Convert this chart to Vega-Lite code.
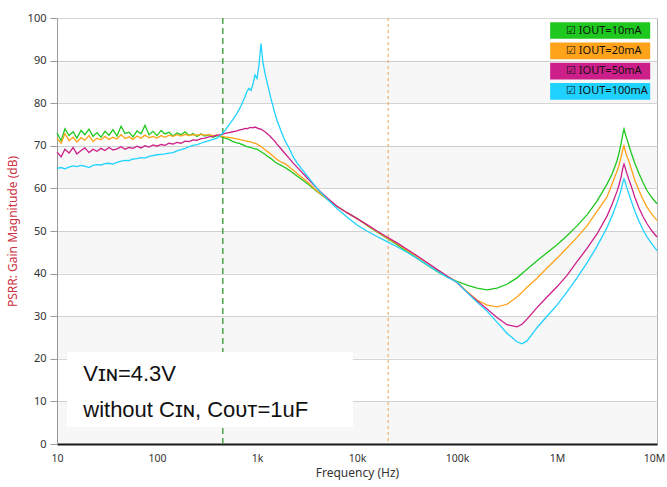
{
  "$schema": "https://vega.github.io/schema/vega-lite/v6.json",
  "width": 600,
  "height": 426,
  "autosize": {"type": "none"},
  "padding": {"left": 57, "top": 18, "right": 10, "bottom": 43},
  "background": "white",
  "datasets": {
    "bands": [
      {"lo": 0, "hi": 10}, {"lo": 20, "hi": 30}, {"lo": 40, "hi": 50}, {"lo": 60, "hi": 70}, {"lo": 80, "hi": 90}
    ],
    "psrr": [
      {"f": 10, "10mA": 73.0, "20mA": 71.8, "50mA": 68.5, "100mA": 64.7},
      {"f": 11, "10mA": 71.2, "20mA": 70.6, "50mA": 67.4, "100mA": 64.9},
      {"f": 12, "10mA": 74.0, "20mA": 72.9, "50mA": 69.2, "100mA": 64.6},
      {"f": 13.2, "10mA": 72.4, "20mA": 71.2, "50mA": 68.3, "100mA": 65.0},
      {"f": 14.5, "10mA": 73.3, "20mA": 72.0, "50mA": 69.6, "100mA": 65.3},
      {"f": 15.8, "10mA": 71.8, "20mA": 70.9, "50mA": 68.1, "100mA": 65.1},
      {"f": 17.4, "10mA": 73.6, "20mA": 71.9, "50mA": 68.9, "100mA": 65.4},
      {"f": 19, "10mA": 72.6, "20mA": 71.3, "50mA": 69.5, "100mA": 65.2},
      {"f": 20.9, "10mA": 73.9, "20mA": 72.4, "50mA": 68.4, "100mA": 64.9},
      {"f": 22.9, "10mA": 72.2, "20mA": 71.0, "50mA": 69.2, "100mA": 65.4},
      {"f": 25.1, "10mA": 73.1, "20mA": 71.8, "50mA": 68.7, "100mA": 65.6},
      {"f": 27.5, "10mA": 72.0, "20mA": 71.4, "50mA": 69.4, "100mA": 65.5},
      {"f": 30.2, "10mA": 73.4, "20mA": 72.2, "50mA": 68.9, "100mA": 65.8},
      {"f": 33.1, "10mA": 72.5, "20mA": 71.5, "50mA": 69.6, "100mA": 65.9},
      {"f": 36.3, "10mA": 73.8, "20mA": 72.0, "50mA": 69.0, "100mA": 65.7},
      {"f": 39.8, "10mA": 72.3, "20mA": 71.6, "50mA": 69.3, "100mA": 66.1},
      {"f": 43.7, "10mA": 74.6, "20mA": 72.6, "50mA": 69.8, "100mA": 66.4},
      {"f": 47.9, "10mA": 72.9, "20mA": 71.7, "50mA": 69.2, "100mA": 66.6},
      {"f": 52.5, "10mA": 73.2, "20mA": 72.1, "50mA": 69.6, "100mA": 66.5},
      {"f": 57.5, "10mA": 72.1, "20mA": 71.5, "50mA": 69.4, "100mA": 66.9},
      {"f": 63.1, "10mA": 73.5, "20mA": 72.3, "50mA": 69.9, "100mA": 67.0},
      {"f": 69.2, "10mA": 72.8, "20mA": 71.8, "50mA": 69.5, "100mA": 67.2},
      {"f": 75.9, "10mA": 74.8, "20mA": 72.5, "50mA": 70.0, "100mA": 67.1},
      {"f": 83.2, "10mA": 72.6, "20mA": 71.9, "50mA": 69.7, "100mA": 67.5},
      {"f": 91.2, "10mA": 73.4, "20mA": 72.2, "50mA": 70.2, "100mA": 67.7},
      {"f": 100, "10mA": 72.4, "20mA": 71.8, "50mA": 69.9, "100mA": 67.9},
      {"f": 110, "10mA": 73.6, "20mA": 72.4, "50mA": 70.3, "100mA": 68.0},
      {"f": 120, "10mA": 72.8, "20mA": 72.0, "50mA": 70.1, "100mA": 68.1},
      {"f": 132, "10mA": 73.2, "20mA": 72.5, "50mA": 70.6, "100mA": 68.3},
      {"f": 145, "10mA": 72.3, "20mA": 72.2, "50mA": 70.4, "100mA": 68.4},
      {"f": 158, "10mA": 73.0, "20mA": 72.6, "50mA": 70.8, "100mA": 68.8},
      {"f": 174, "10mA": 72.6, "20mA": 72.3, "50mA": 70.6, "100mA": 69.1},
      {"f": 191, "10mA": 73.3, "20mA": 72.7, "50mA": 71.1, "100mA": 69.4},
      {"f": 209, "10mA": 72.4, "20mA": 72.4, "50mA": 71.0, "100mA": 69.8},
      {"f": 229, "10mA": 72.9, "20mA": 72.6, "50mA": 71.4, "100mA": 70.1},
      {"f": 251, "10mA": 72.2, "20mA": 72.5, "50mA": 71.3, "100mA": 70.3},
      {"f": 275, "10mA": 72.8, "20mA": 72.7, "50mA": 71.7, "100mA": 70.6},
      {"f": 302, "10mA": 72.3, "20mA": 72.5, "50mA": 71.8, "100mA": 70.9},
      {"f": 331, "10mA": 72.6, "20mA": 72.6, "50mA": 72.1, "100mA": 71.2},
      {"f": 363, "10mA": 72.0, "20mA": 72.4, "50mA": 72.2, "100mA": 71.5},
      {"f": 398, "10mA": 72.4, "20mA": 72.5, "50mA": 72.5, "100mA": 71.8},
      {"f": 437, "10mA": 72.1, "20mA": 72.3, "50mA": 72.6, "100mA": 72.6},
      {"f": 479, "10mA": 71.8, "20mA": 72.1, "50mA": 72.9, "100mA": 73.6},
      {"f": 525, "10mA": 71.5, "20mA": 72.0, "50mA": 73.1, "100mA": 74.9},
      {"f": 575, "10mA": 71.0, "20mA": 71.8, "50mA": 73.3, "100mA": 76.2},
      {"f": 631, "10mA": 70.7, "20mA": 71.6, "50mA": 73.5, "100mA": 77.6},
      {"f": 661, "10mA": 70.6, "20mA": 71.5, "50mA": 73.7, "100mA": 78.5},
      {"f": 692, "10mA": 70.4, "20mA": 71.4, "50mA": 73.8, "100mA": 79.4},
      {"f": 724, "10mA": 70.2, "20mA": 71.3, "50mA": 73.9, "100mA": 80.4},
      {"f": 759, "10mA": 70.0, "20mA": 71.2, "50mA": 74.1, "100mA": 81.5},
      {"f": 794, "10mA": 69.8, "20mA": 71.1, "50mA": 74.0, "100mA": 82.8},
      {"f": 832, "10mA": 69.7, "20mA": 71.0, "50mA": 74.2, "100mA": 83.5},
      {"f": 871, "10mA": 69.6, "20mA": 70.9, "50mA": 74.3, "100mA": 83.0},
      {"f": 912, "10mA": 69.4, "20mA": 70.7, "50mA": 74.2, "100mA": 84.5},
      {"f": 955, "10mA": 69.3, "20mA": 70.6, "50mA": 74.4, "100mA": 86.6},
      {"f": 1000, "10mA": 69.2, "20mA": 70.4, "50mA": 74.2, "100mA": 85.8},
      {"f": 1047, "10mA": 68.9, "20mA": 70.1, "50mA": 74.0, "100mA": 89.0},
      {"f": 1096, "10mA": 68.6, "20mA": 69.8, "50mA": 73.9, "100mA": 94.0},
      {"f": 1148, "10mA": 68.3, "20mA": 69.5, "50mA": 73.6, "100mA": 89.5},
      {"f": 1202, "10mA": 68.0, "20mA": 69.1, "50mA": 73.3, "100mA": 87.0},
      {"f": 1259, "10mA": 67.6, "20mA": 68.7, "50mA": 72.9, "100mA": 85.0},
      {"f": 1318, "10mA": 67.3, "20mA": 68.4, "50mA": 72.5, "100mA": 83.0},
      {"f": 1380, "10mA": 67.0, "20mA": 68.0, "50mA": 72.0, "100mA": 81.0},
      {"f": 1445, "10mA": 66.6, "20mA": 67.6, "50mA": 71.5, "100mA": 79.3},
      {"f": 1514, "10mA": 66.2, "20mA": 67.2, "50mA": 71.0, "100mA": 77.5},
      {"f": 1585, "10mA": 65.9, "20mA": 66.8, "50mA": 70.4, "100mA": 76.0},
      {"f": 1738, "10mA": 65.4, "20mA": 66.2, "50mA": 69.3, "100mA": 73.5},
      {"f": 1905, "10mA": 64.9, "20mA": 65.8, "50mA": 68.2, "100mA": 71.2},
      {"f": 2089, "10mA": 64.3, "20mA": 65.1, "50mA": 67.1, "100mA": 69.5},
      {"f": 2291, "10mA": 63.6, "20mA": 64.3, "50mA": 66.0, "100mA": 67.5},
      {"f": 2512, "10mA": 62.9, "20mA": 63.5, "50mA": 65.0, "100mA": 66.0},
      {"f": 3162, "10mA": 61.2, "20mA": 61.6, "50mA": 62.5, "100mA": 63.0},
      {"f": 3981, "10mA": 59.3, "20mA": 59.4, "50mA": 60.0, "100mA": 60.0},
      {"f": 5012, "10mA": 57.5, "20mA": 57.5, "50mA": 57.8, "100mA": 57.5},
      {"f": 6310, "10mA": 55.8, "20mA": 55.8, "50mA": 55.8, "100mA": 55.3},
      {"f": 7943, "10mA": 54.3, "20mA": 54.3, "50mA": 54.3, "100mA": 53.3},
      {"f": 10000, "10mA": 53.0, "20mA": 52.9, "50mA": 52.9, "100mA": 51.4},
      {"f": 12589, "10mA": 51.3, "20mA": 51.4, "50mA": 51.5, "100mA": 50.0},
      {"f": 15849, "10mA": 49.8, "20mA": 49.9, "50mA": 50.0, "100mA": 48.7},
      {"f": 19953, "10mA": 48.3, "20mA": 48.4, "50mA": 48.6, "100mA": 47.5},
      {"f": 25119, "10mA": 46.8, "20mA": 47.0, "50mA": 47.2, "100mA": 46.3},
      {"f": 31623, "10mA": 45.2, "20mA": 45.5, "50mA": 45.7, "100mA": 45.0},
      {"f": 39811, "10mA": 43.6, "20mA": 44.0, "50mA": 44.2, "100mA": 43.6},
      {"f": 50119, "10mA": 42.0, "20mA": 42.5, "50mA": 42.6, "100mA": 42.1},
      {"f": 63096, "10mA": 40.5, "20mA": 40.9, "50mA": 41.0, "100mA": 40.6},
      {"f": 79433, "10mA": 39.2, "20mA": 39.4, "50mA": 39.4, "100mA": 39.2},
      {"f": 100000, "10mA": 38.2, "20mA": 38.0, "50mA": 37.9, "100mA": 38.0},
      {"f": 125893, "10mA": 37.3, "20mA": 35.8, "50mA": 35.6, "100mA": 35.6},
      {"f": 158489, "10mA": 36.6, "20mA": 33.8, "50mA": 33.6, "100mA": 33.3},
      {"f": 199526, "10mA": 36.2, "20mA": 32.6, "50mA": 31.7, "100mA": 31.2},
      {"f": 251189, "10mA": 36.6, "20mA": 32.2, "50mA": 29.7, "100mA": 28.6},
      {"f": 316228, "10mA": 37.5, "20mA": 32.8, "50mA": 28.0, "100mA": 26.0},
      {"f": 398107, "10mA": 39.0, "20mA": 34.5, "50mA": 27.5, "100mA": 24.0},
      {"f": 446684, "10mA": 40.0, "20mA": 35.6, "50mA": 28.1, "100mA": 23.5},
      {"f": 501187, "10mA": 41.0, "20mA": 36.8, "50mA": 29.3, "100mA": 24.2},
      {"f": 630957, "10mA": 43.0, "20mA": 38.9, "50mA": 32.0, "100mA": 27.3},
      {"f": 794328, "10mA": 44.9, "20mA": 41.3, "50mA": 34.5, "100mA": 30.0},
      {"f": 1000000, "10mA": 46.8, "20mA": 43.6, "50mA": 36.9, "100mA": 32.6},
      {"f": 1258925, "10mA": 48.9, "20mA": 46.0, "50mA": 39.6, "100mA": 35.7},
      {"f": 1584893, "10mA": 51.2, "20mA": 48.5, "50mA": 42.8, "100mA": 39.0},
      {"f": 1995262, "10mA": 53.8, "20mA": 51.2, "50mA": 45.9, "100mA": 42.5},
      {"f": 2511886, "10mA": 57.0, "20mA": 54.6, "50mA": 49.3, "100mA": 46.4},
      {"f": 3162278, "10mA": 61.0, "20mA": 58.0, "50mA": 53.5, "100mA": 50.8},
      {"f": 3548134, "10mA": 63.3, "20mA": 61.0, "50mA": 56.2, "100mA": 53.5},
      {"f": 3981072, "10mA": 66.5, "20mA": 64.0, "50mA": 59.3, "100mA": 56.6},
      {"f": 4168694, "10mA": 68.3, "20mA": 65.4, "50mA": 60.8, "100mA": 58.0},
      {"f": 4365158, "10mA": 70.4, "20mA": 67.3, "50mA": 62.6, "100mA": 59.6},
      {"f": 4570882, "10mA": 73.0, "20mA": 69.3, "50mA": 65.0, "100mA": 61.6},
      {"f": 4677351, "10mA": 73.9, "20mA": 70.0, "50mA": 65.7, "100mA": 62.2},
      {"f": 4786301, "10mA": 73.0, "20mA": 69.0, "50mA": 65.0, "100mA": 61.6},
      {"f": 5011872, "10mA": 71.5, "20mA": 67.5, "50mA": 63.4, "100mA": 60.0},
      {"f": 5248075, "10mA": 70.0, "20mA": 66.3, "50mA": 62.0, "100mA": 58.6},
      {"f": 5495409, "10mA": 68.5, "20mA": 64.8, "50mA": 60.7, "100mA": 57.2},
      {"f": 6025596, "10mA": 65.8, "20mA": 61.8, "50mA": 57.8, "100mA": 54.6},
      {"f": 6606934, "10mA": 63.5, "20mA": 59.5, "50mA": 55.4, "100mA": 52.3},
      {"f": 7244360, "10mA": 61.4, "20mA": 57.4, "50mA": 53.4, "100mA": 50.3},
      {"f": 7943282, "10mA": 59.5, "20mA": 55.6, "50mA": 51.7, "100mA": 48.6},
      {"f": 8912509, "10mA": 57.8, "20mA": 53.9, "50mA": 50.0, "100mA": 46.9},
      {"f": 10000000, "10mA": 56.4, "20mA": 52.5, "50mA": 48.6, "100mA": 45.4}
    ]
  },
  "config": {
    "font": "Noto Sans",
    "view": {"stroke": "#b4b4b4", "strokeWidth": 1},
    "axis": {"labelFont": "Noto Sans", "titleFont": "Noto Sans", "titleFontWeight": "normal"}
  },
  "layer": [
    {
      "data": {"name": "bands"},
      "mark": {"type": "rect", "fill": "#000000", "fillOpacity": 0.03, "strokeWidth": 0},
      "encoding": {
        "y": {"field": "lo", "type": "quantitative", "title": "PSRR: Gain Magnitude (dB)"},
        "y2": {"field": "hi"}
      }
    },
    {
      "data": {"values": [{}]},
      "mark": {"type": "rule", "stroke": "#3f9f3f", "strokeDash": [6, 4], "strokeWidth": 1.4},
      "encoding": {"x": {"datum": 455, "type": "quantitative", "title": "Frequency (Hz)"}}
    },
    {
      "data": {"values": [{}]},
      "mark": {"type": "rule", "stroke": "#f0a055", "strokeDash": [3, 3], "strokeWidth": 1},
      "encoding": {"x": {"datum": 20500, "type": "quantitative", "title": "Frequency (Hz)"}}
    },
    {
      "data": {"name": "psrr"},
      "transform": [{"fold": ["10mA", "20mA", "50mA", "100mA"], "as": ["series", "db"]}],
      "mark": {"type": "line", "strokeWidth": 1.3},
      "encoding": {
        "x": {
          "field": "f",
          "type": "quantitative",
          "scale": {"type": "log", "domain": [10, 10000000], "nice": false},
          "axis": {
            "title": "Frequency (Hz)",
            "values": [10,20,30,40,50,60,70,80,90,100,200,300,400,500,600,700,800,900,1000,2000,3000,4000,5000,6000,7000,8000,9000,10000,20000,30000,40000,50000,60000,70000,80000,90000,100000,200000,300000,400000,500000,600000,700000,800000,900000,1000000,2000000,3000000,4000000,5000000,6000000,7000000,8000000,9000000,10000000],
            "labelExpr": "datum.value==10?'10':datum.value==100?'100':datum.value==1000?'1k':datum.value==10000?'10k':datum.value==100000?'100k':datum.value==1000000?'1M':datum.value==10000000?'10M':''",
            "labelOverlap": false,
            "labelFlush": false,
            "labelOffset": {"condition": {"test": "datum.value==10000000", "value": -3}, "value": 0},
            "ticks": false,
            "labelPadding": 9,
            "labelFontSize": 10.5,
            "labelColor": "#333333",
            "domainColor": "#1a1a1a",
            "domainWidth": 2,
            "gridColor": {"condition": {"test": "datum.value==10||datum.value==100||datum.value==1000||datum.value==10000||datum.value==100000||datum.value==1000000||datum.value==10000000", "value": "#c4c4c4"}, "value": "#e2e2e2"},
            "titleFontSize": 12,
            "titleColor": "#333333",
            "titlePadding": 4
          }
        },
        "y": {
          "field": "db",
          "type": "quantitative",
          "scale": {"domain": [0, 100], "nice": false},
          "axis": {
            "title": "PSRR: Gain Magnitude (dB)",
            "values": [0, 10, 20, 30, 40, 50, 60, 70, 80, 90, 100],
            "titleColor": "#cc3344",
            "titleFontSize": 12,
            "titlePadding": 8,
            "labelFontSize": 11,
            "labelColor": "#333333",
            "labelPadding": 4,
            "tickSize": 7,
            "tickColor": "#9a9a9a",
            "domainColor": "#9a9a9a",
            "gridColor": "#d6d6d6"
          }
        },
        "color": {
          "field": "series",
          "type": "nominal",
          "scale": {"domain": ["10mA", "20mA", "50mA", "100mA"], "range": ["#1ec81e", "#ffa31a", "#cc1f8a", "#1fd2ff"]},
          "legend": {
            "orient": "none",
            "legendX": 493,
            "legendY": 4,
            "title": null,
            "padding": 0,
            "symbolType": "M-1,-1H10.98V1H-1Z",
            "symbolSize": 279,
            "symbolStrokeWidth": 0,
            "symbolOpacity": 1,
            "labelOffset": -1,
            "labelFontSize": 11,
            "labelColor": "#111111",
            "rowPadding": 3.3,
            "labelExpr": "'☑ IOUT=' + datum.label",
            "encode": {"symbols": {"update": {"fill": {"scale": "color", "field": "value"}, "opacity": {"value": 1}}}}
          }
        }
      }
    },
    {
      "data": {"values": [{}]},
      "mark": {"type": "rect", "fill": "#ffffff", "strokeWidth": 0},
      "encoding": {
        "x": {"datum": 12.6, "type": "quantitative"},
        "x2": {"datum": 9120},
        "y": {"datum": 21.6, "type": "quantitative"},
        "y2": {"datum": 4.0}
      }
    },
    {
      "data": {"values": [{}]},
      "mark": {"type": "text", "text": ["Vɪɴ=4.3V", "without Cɪɴ, Cᴏᴜᴛ=1uF"], "align": "left", "baseline": "alphabetic", "font": "Liberation Sans", "fontSize": 22, "lineHeight": 36, "color": "#111111"},
      "encoding": {
        "x": {"datum": 18.3, "type": "quantitative"},
        "y": {"datum": 14.86, "type": "quantitative"}
      }
    }
  ]
}
